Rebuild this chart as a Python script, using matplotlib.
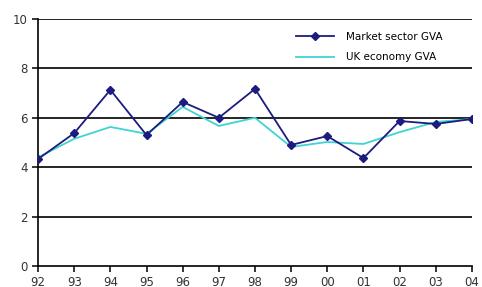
import numpy as np
import matplotlib.pyplot as plt

years = ['92', '93', '94', '95', '96', '97', '98', '99', '00', '01', '02', '03', '04']
market_sector = [4.33, 5.38, 7.13, 5.30, 6.64, 6.00, 7.17, 4.90, 5.26, 4.37, 5.87, 5.75, 5.95]
uk_economy = [4.40, 5.15, 5.63, 5.35, 6.44, 5.67, 6.00, 4.82, 5.02, 4.94, 5.42, 5.83, 5.95]
yticks = [0, 2, 4, 6, 8, 10]

fig = plt.figure(figsize=(4.82, 2.87), dpi=100)
ax = fig.add_axes([0.079, 0.073, 0.900, 0.861])

x = np.arange(len(years))
ax.plot(x, market_sector, color='#1c1c80', lw=1.3, marker='D', ms=4.5,
        label='Market sector GVA', zorder=3)
ax.plot(x, uk_economy, color='#3fd3d3', lw=1.3, label='UK economy GVA', zorder=2)

ax.set_xlim(0, len(years) - 1)
ax.set_ylim(0, 10)
ax.set_yticks(yticks)
ax.set_xticks(x)
ax.set_xticklabels(years)
for t in yticks[1:]:
    ax.axhline(t, color='black', lw=1.2, zorder=1)

for s in ['top', 'right']:
    ax.spines[s].set_visible(False)
ax.spines['left'].set_linewidth(1.2)
ax.spines['bottom'].set_linewidth(1.2)
ax.tick_params(axis='both', labelsize=8.5, labelcolor='#333333', length=4, width=1.1)

leg = ax.legend(loc='upper right', bbox_to_anchor=(0.955, 0.985), frameon=False,
                fontsize=7.5, handlelength=3.6, labelspacing=1.0, handletextpad=1.2)

fig.savefig('out.png', dpi=100)
